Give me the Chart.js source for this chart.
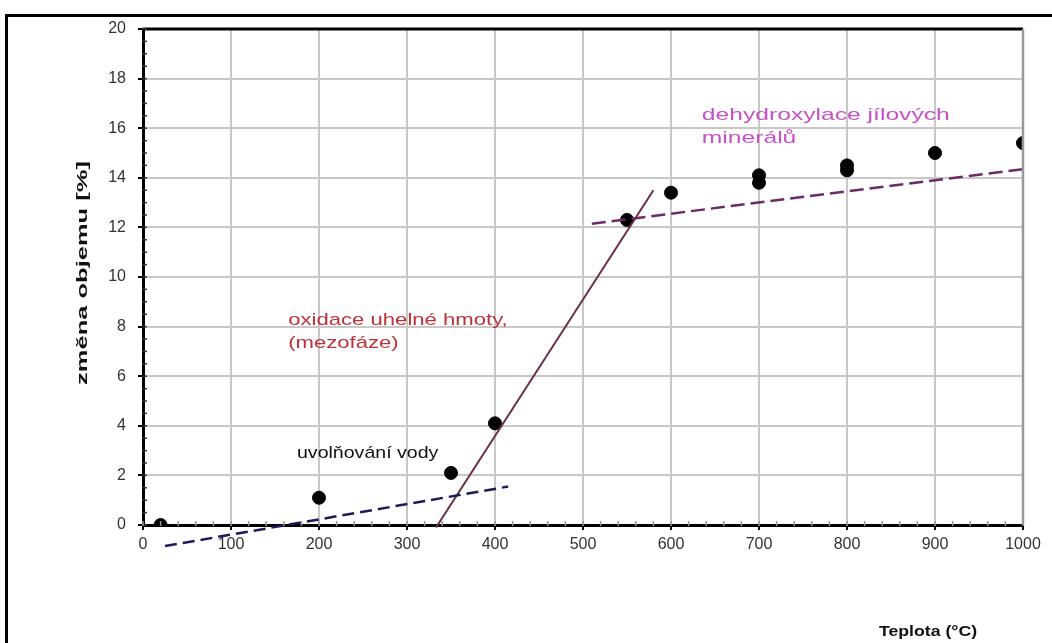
<!DOCTYPE html>
<html>
<head>
<meta charset="utf-8">
<script src="https://cdn.jsdelivr.net/npm/chart.js@4/dist/chart.umd.min.js"></script>
<style>
  html, body { margin: 0; padding: 0; background: #fff; }
  #wrap { width: 1052px; height: 643px; position: relative; }
</style>
</head>
<body>
<div id="wrap"><canvas id="graf" width="1052" height="643"></canvas></div>
<script>
// naměřené body
var teplota = [20, 200, 350, 400, 550, 600, 700, 700, 800, 800, 900, 1000];
var zmena   = [0, 1.1, 2.1, 4.1, 12.3, 13.4, 13.8, 14.1, 14.3, 14.5, 15.0, 15.4];

// trendove primky (krajni body)
var vodaX = [25, 415];
var vodaY = [-0.85, 1.55];
var uhliX = [333, 580];
var uhliY = [-0.1, 13.5];
var dehydX = [510, 1000];
var dehydY = [12.15, 14.35];

var xTicks = [0, 100, 200, 300, 400, 500, 600, 700, 800, 900, 1000];
var yTicks = [0, 2, 4, 6, 8, 10, 12, 14, 16, 18, 20];

var popisky = [
  { radky: ['dehydroxylace jílových', 'minerálů'], x: 635, y: 16.5, barva: '#c850c8', roztah: 1.45 },
  { radky: ['oxidace uhelné hmoty,', '(mezofáze)'], x: 165, y: 8.25, barva: '#c03038', roztah: 1.3 },
  { radky: ['uvolňování vody'], x: 175, y: 2.9, barva: '#111', roztah: 1.15 }
];

function body(xs, ys) {
  var out = [];
  for (var i = 0; i < xs.length; i++) out.push({ x: xs[i], y: ys[i] });
  return out;
}

// ramecek, vedlejsi carky a texty
var kresleni = {
  id: 'kresleni',
  beforeDraw: function (chart) {
    var c = chart.ctx;
    c.save();
    c.fillStyle = '#fff';
    c.fillRect(0, 0, chart.width, chart.height);
    c.restore();
  },
  afterDraw: function (chart) {
    var c = chart.ctx, a = chart.chartArea;
    var sx = chart.scales.x, sy = chart.scales.y;
    c.save();
    // vnejsi ramecek
    c.strokeStyle = '#000';
    c.lineWidth = 3;
    c.beginPath();
    c.moveTo(6.5, chart.height + 5);
    c.lineTo(6.5, 15.5);
    c.lineTo(chart.width + 5, 15.5);
    c.stroke();
    // horni a prava hrana grafu
    c.beginPath();
    c.moveTo(a.left, a.top);
    c.lineTo(a.right, a.top);
    c.stroke();
    c.strokeStyle = '#999';
    c.lineWidth = 2.5;
    c.beginPath();
    c.moveTo(a.right, a.top);
    c.lineTo(a.right, a.bottom);
    c.stroke();
    // vedlejsi carky
    c.strokeStyle = '#333';
    c.lineWidth = 1.5;
    for (var v = 0; v <= 20; v += 0.5) {
      var py = sy.getPixelForValue(v);
      c.beginPath(); c.moveTo(a.left - 1, py); c.lineTo(a.left + 4, py); c.stroke();
    }
    c.strokeStyle = '#999';
    for (var t = 0; t <= 1000; t += 20) {
      var px = sx.getPixelForValue(t);
      c.beginPath(); c.moveTo(px, a.bottom - 4); c.lineTo(px, a.bottom + 1); c.stroke();
    }
    // popisky (text je v predloze roztazeny do sirky)
    c.font = '17px "Liberation Sans", Arial, sans-serif';
    c.textBaseline = 'middle';
    popisky.forEach(function (p) {
      c.fillStyle = p.barva;
      var x0 = sx.getPixelForValue(p.x), y0 = sy.getPixelForValue(p.y);
      p.radky.forEach(function (r, i) {
        c.save();
        c.translate(x0, y0 + i * 23);
        c.scale(p.roztah, 1);
        c.fillText(r, 0, 0);
        c.restore();
      });
    });
    // nazvy os
    c.fillStyle = '#111';
    c.font = 'bold 15px "Liberation Sans", Arial, sans-serif';
    c.textAlign = 'center';
    c.save();
    c.translate(928, 632);
    c.scale(1.18, 1);
    c.fillText('Teplota (°C)', 0, 0);
    c.restore();
    c.translate(83, 273);
    c.rotate(-Math.PI / 2);
    c.scale(1.7, 1);
    c.fillText('změna objemu [%]', 0, 0);
    c.restore();
  }
};

var ctx = document.getElementById('graf').getContext('2d');
var chart = new Chart(ctx, {
  type: 'scatter',
  data: {
    datasets: [
      {
        label: 'voda', type: 'line', data: body(vodaX, vodaY),
        borderColor: '#1c1c5a', borderWidth: 2.5, borderDash: [12, 6],
        pointRadius: 0, clip: false, order: 1
      },
      {
        label: 'uhli', type: 'line', data: body(uhliX, uhliY),
        borderColor: '#6a3040', borderWidth: 2,
        pointRadius: 0, clip: false, order: 1
      },
      {
        label: 'dehydroxylace', type: 'line', data: body(dehydX, dehydY),
        borderColor: '#6c2a66', borderWidth: 2.5, borderDash: [14, 6],
        pointRadius: 0, clip: false, order: 1
      },
      {
        label: 'mereni', data: body(teplota, zmena),
        backgroundColor: '#000', borderColor: '#000',
        pointRadius: 6.5, pointStyle: 'circle', order: 2
      }
    ]
  },
  options: {
    responsive: false,
    animation: false,
    layout: { padding: { left: 0, top: 29, right: 29, bottom: 0 } },
    plugins: { legend: { display: false }, tooltip: { enabled: false } },
    scales: {
      x: {
        type: 'linear', min: 0, max: 1000,
        afterBuildTicks: function (s) { s.ticks = xTicks.map(function (v) { return { value: v }; }); },
        afterFit: function (s) { s.height = 118; },
        grid: { color: '#c8c8c8', lineWidth: 2, tickColor: '#000', tickLength: 5, tickWidth: 2 },
        border: { color: '#000', width: 3 },
        ticks: {
          color: '#333', padding: 5, maxRotation: 0, autoSkip: false,
          font: { size: 16, family: '"Liberation Sans", Arial' },
          callback: function (v) { return String(v); }
        }
      },
      y: {
        min: 0, max: 20,
        afterBuildTicks: function (s) { s.ticks = yTicks.map(function (v) { return { value: v }; }); },
        afterFit: function (s) { s.width = 143; },
        grid: { color: '#c8c8c8', lineWidth: 2, tickColor: '#000', tickLength: 5, tickWidth: 2 },
        border: { color: '#000', width: 3 },
        ticks: {
          color: '#333', padding: 12,
          font: { size: 16, family: '"Liberation Sans", Arial' },
          callback: function (v) { return String(v); }
        }
      }
    }
  },
  plugins: [kresleni]
});
</script>
</body>
</html>
